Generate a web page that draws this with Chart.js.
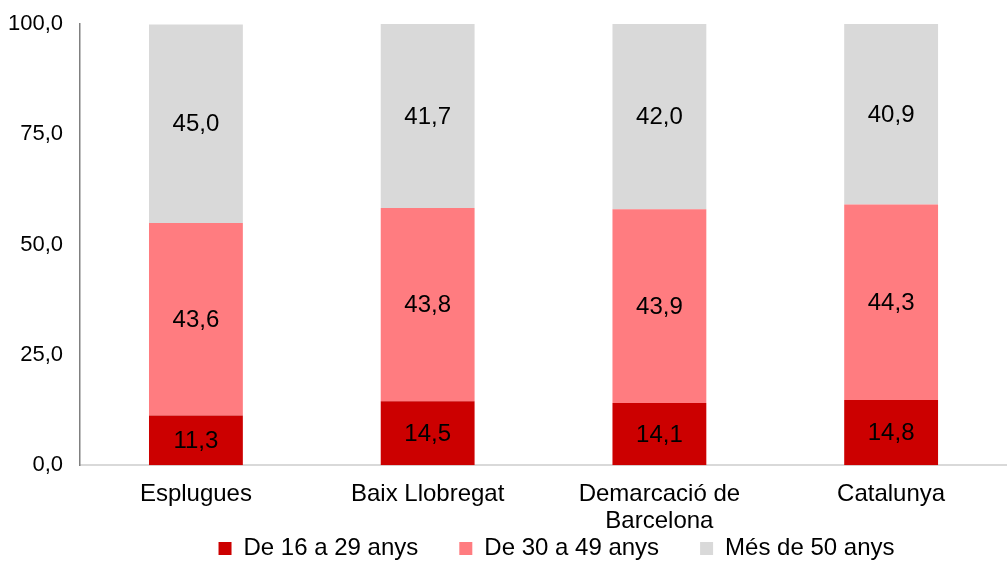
<!DOCTYPE html>
<html>
<head>
<meta charset="utf-8">
<script src="https://cdn.jsdelivr.net/npm/chart.js@4"></script>
<style>
  html, body { margin: 0; padding: 0; background: #fff; }
  #wrap { width: 1007px; height: 561px; }
</style>
</head>
<body>
<div id="wrap"><canvas id="ageChart"></canvas></div>
<script>
const categories = ["Esplugues", "Baix Llobregat", ["Demarcació de", "Barcelona"], "Catalunya"];
const young = [11.3, 14.5, 14.1, 14.8];
const middle = [43.6, 43.8, 43.9, 44.3];
const older = [45.0, 41.7, 42.0, 40.9];
const seriesNames = ["De 16 a 29 anys", "De 30 a 49 anys", "Més de 50 anys"];
const yTicks = [0, 25, 50, 75, 100];

const FONT = "'Liberation Sans', Arial, sans-serif";
const LEGEND_PAD = 41;
const LEGEND_SIZE = 24;
const fmt = v => v.toFixed(1).replace(".", ",");

// draw value in middle of every bar piece
const barLabels = {
  id: "barLabels",
  afterDatasetsDraw(chart) {
    const ctx = chart.ctx;
    ctx.save();
    ctx.font = "24px " + FONT;
    ctx.fillStyle = "#000";
    ctx.textAlign = "center";
    ctx.textBaseline = "middle";
    chart.data.datasets.forEach((ds, i) => {
      chart.getDatasetMeta(i).data.forEach((bar, j) => {
        const p = bar.getCenterPoint();
        ctx.fillText(fmt(ds.data[j]), p.x, p.y + 1);
      });
    });
    ctx.restore();
  }
};

// legend: wide gaps between items but sitting close under the axis labels
const legendShift = {
  id: "legendShift",
  afterLayout(chart) {
    const lg = chart.legend;
    const dy = lg.top + LEGEND_PAD + LEGEND_SIZE * 0.6 - 551;
    lg.top -= dy;
    lg.bottom = chart.height;
    lg.left += 13;
    lg.right += 13;
  }
};

const ctx = document.getElementById("ageChart").getContext("2d");
new Chart(ctx, {
  type: "bar",
  data: {
    labels: categories,
    datasets: [
      { label: seriesNames[0], data: young, backgroundColor: "#CC0000" },
      { label: seriesNames[1], data: middle, backgroundColor: "#FF7C80" },
      { label: seriesNames[2], data: older, backgroundColor: "#D9D9D9" }
    ]
  },
  options: {
    responsive: true,
    maintainAspectRatio: false,
    animation: false,
    categoryPercentage: 1,
    barPercentage: 0.405,
    layout: { padding: { top: 0, right: 0, left: -9, bottom: 0 } },
    plugins: {
      tooltip: { enabled: false },
      legend: {
        position: "bottom",
        fullSize: false,
        maxHeight: 10,
        labels: {
          color: "#000",
          font: { family: FONT, size: LEGEND_SIZE },
          boxWidth: 13,
          boxHeight: 13,
          padding: LEGEND_PAD
        }
      }
    },
    scales: {
      x: {
        stacked: true,
        grid: { display: false, drawTicks: false },
        border: { color: "#D9D9D9", width: 2 },
        ticks: {
          color: "#000",
          font: { family: FONT, size: 24, lineHeight: 1.12 },
          padding: 16,
          maxRotation: 0
        }
      },
      y: {
        stacked: true,
        min: 0,
        max: 100,
        afterBuildTicks: axis => { axis.ticks = yTicks.map(v => ({ value: v })); },
        afterFit: axis => { axis.paddingTop = 24; },
        grid: { display: false, drawTicks: false },
        border: { color: "#808080", width: 1.5 },
        ticks: {
          color: "#000",
          font: { family: FONT, size: 22 },
          padding: 17,
          callback: v => fmt(v)
        }
      }
    }
  },
  plugins: [barLabels, legendShift]
});
</script>
</body>
</html>
